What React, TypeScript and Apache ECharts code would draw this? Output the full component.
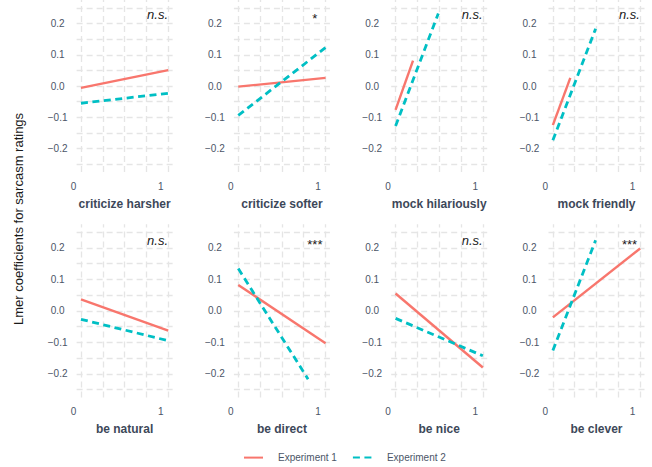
import React, { useEffect, useRef } from 'react';
import * as echarts from 'echarts';

// ---- data ----
const panelNames = [
  'criticize harsher', 'criticize softer', 'mock hilariously', 'mock friendly',
  'be natural', 'be direct', 'be nice', 'be clever',
];
const significance = ['n.s.', '*', 'n.s.', 'n.s.', 'n.s.', '***', 'n.s.', '***'];

// Experiment 1 (solid): start x, start y, end x, end y
const exp1StartX = [0, 0, 0, 0, 0, 0, 0, 0];
const exp1StartY = [-0.006, -0.002, -0.076, -0.125, 0.036, 0.082, 0.055, -0.021];
const exp1EndX = [1, 1, 0.2, 0.2, 1, 1, 1, 1];
const exp1EndY = [0.051, 0.026, 0.081, 0.026, -0.063, -0.103, -0.18, 0.198];

// Experiment 2 (dashed)
const exp2StartX = [0, 0, 0, 0, 0, 0, 0, 0];
const exp2StartY = [-0.055, -0.094, -0.128, -0.173, -0.027, 0.134, -0.024, -0.126];
const exp2EndX = [1, 1, 0.49, 0.49, 1, 0.8, 1, 0.49];
const exp2EndY = [-0.023, 0.123, 0.232, 0.183, -0.095, -0.217, -0.143, 0.224];

const xGridValues = [0, 0.25, 0.5, 0.75, 1];
const yGridValues = [-0.25, -0.2, -0.15, -0.1, -0.05, 0, 0.05, 0.1, 0.15, 0.2, 0.25];

const seriesNames = ['Experiment 1', 'Experiment 2'];

// ---- layout ----
const colLeft = [76.6, 233.9, 391.2, 548.5];
const rowTop = [-1.1, 224.2];
const gridW = 96;
const gridH = 173.2;
const RED = '#F8766D';
const TEAL = '#00BFC4';
const FONT = '"Liberation Sans", Arial, Helvetica, sans-serif';
const TICK_COLOR = '#4b5567';
const TITLE_COLOR = '#3d4859';

export default function App() {
  const ref = useRef<HTMLDivElement>(null);
  useEffect(() => {
    if (!ref.current) return;
    const chart = echarts.init(ref.current, null, { renderer: 'svg' });

    const grids: any[] = [];
    const xAxes: any[] = [];
    const yAxes: any[] = [];
    const series: any[] = [];
    const graphics: any[] = [];

    panelNames.forEach((name, i) => {
      const c = i % 4;
      const r = Math.floor(i / 4);
      grids.push({ left: colLeft[c], top: rowTop[r], width: gridW, height: gridH, containLabel: false });
      xAxes.push({
        type: 'value', gridIndex: i, min: -0.05, max: 1.05, interval: 0.05,
        axisLine: { show: false }, axisTick: { show: false }, splitLine: { show: false },
        axisLabel: {
          fontSize: 10, color: TICK_COLOR, fontFamily: FONT, margin: 9,
          padding: [0, 15, 0, 0],
          formatter: (v: number) => (Math.abs(v) < 1e-6 ? '0' : Math.abs(v - 1) < 1e-6 ? '1' : ''),
        },
        name, nameLocation: 'middle', nameGap: 26,
        nameTextStyle: { fontSize: 12, fontWeight: 'bold', color: TITLE_COLOR, fontFamily: FONT },
      });
      yAxes.push({
        type: 'value', gridIndex: i, min: -0.275, max: 0.275, interval: 0.025,
        axisLine: { show: false }, axisTick: { show: false }, splitLine: { show: false },
        axisLabel: {
          fontSize: 10, color: TICK_COLOR, fontFamily: FONT, margin: 19, align: 'center',
          formatter: (v: number) => {
            const t = v * 10;
            if (Math.abs(t - Math.round(t)) > 1e-6) return '';
            return v.toFixed(1).replace('-', '\u2212');
          },
        },
      });
      series.push({
        type: 'line', xAxisIndex: i, yAxisIndex: i, data: [], silent: true, z: 1,
        markLine: {
          silent: true, z: 1, symbol: ['none', 'none'], label: { show: false },
          emphasis: { disabled: true },
          lineStyle: { color: '#e5e5e5', width: 1.3, type: [6, 4] },
          data: [
            ...xGridValues.map((v) => ({ xAxis: v })),
            ...yGridValues.map((v) => ({ yAxis: v })),
          ],
        },
      });
      series.push({
        name: seriesNames[0], type: 'line', xAxisIndex: i, yAxisIndex: i, z: 3,
        symbol: 'none', silent: true,
        data: [[exp1StartX[i], exp1StartY[i]], [exp1EndX[i], exp1EndY[i]]],
        lineStyle: { color: RED, width: 2.4 }, itemStyle: { color: RED },
      });
      series.push({
        name: seriesNames[1], type: 'line', xAxisIndex: i, yAxisIndex: i, z: 4,
        symbol: 'none', silent: true,
        data: [[exp2StartX[i], exp2StartY[i]], [exp2EndX[i], exp2EndY[i]]],
        lineStyle: { color: TEAL, width: 2.8, type: [7, 4.5] }, itemStyle: { color: TEAL },
      });
      const sig = significance[i];
      const isStar = sig.indexOf('*') >= 0;
      graphics.push({
        type: 'text',
        x: colLeft[c] + 81,
        y: (r === 0 ? 15 : 241.6) + (isStar ? 3 : -1),
        style: {
          text: sig, fontSize: 13, fontStyle: isStar ? 'normal' : 'italic',
          fill: '#1a1a1a', fontFamily: FONT, align: 'center', verticalAlign: 'middle',
        },
      });
    });

    graphics.push({
      type: 'text', x: 18.3, y: 219, rotation: Math.PI / 2,
      style: {
        text: 'Lmer coefficients for sarcasm ratings', fontSize: 13, fill: '#1a1a1a',
        fontFamily: FONT, align: 'center', verticalAlign: 'middle',
      },
    });

    chart.setOption({
      animation: false,
      backgroundColor: '#ffffff',
      grid: grids,
      xAxis: xAxes,
      yAxis: yAxes,
      series,
      graphic: graphics,
      legend: {
        data: seriesNames, left: 243, top: 452, padding: 0, itemWidth: 19, itemHeight: 14,
        itemGap: 15, selectedMode: false,
        itemStyle: { opacity: 0, borderWidth: 0 },
        textStyle: { fontSize: 10, color: TICK_COLOR, fontFamily: FONT, padding: [0, 0, 0, 10] },
      },
    });
    return () => chart.dispose();
  }, []);
  return (
    <div
      ref={ref}
      style={{ position: 'fixed', left: 0, top: 0, width: 652, height: 467, background: '#fff' }}
    />
  );
}
